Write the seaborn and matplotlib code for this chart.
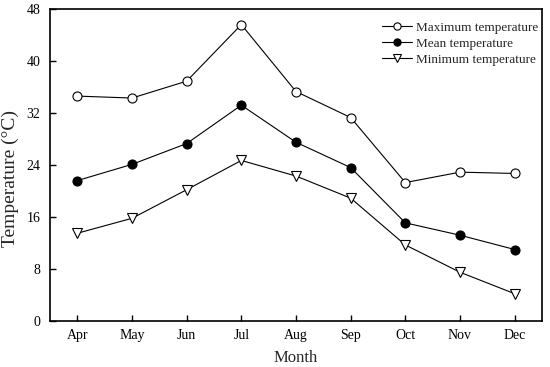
import pandas as pd
import matplotlib
matplotlib.use("Agg")
import matplotlib.pyplot as plt
import seaborn as sns

# Monthly temperatures (°C)
months = ["Apr", "May", "Jun", "Jul", "Aug", "Sep", "Oct", "Nov", "Dec"]
max_temp = [34.6, 34.3, 36.9, 45.6, 35.3, 31.3, 21.3, 22.9, 22.7]
mean_temp = [21.6, 24.1, 27.3, 33.2, 27.5, 23.6, 15.1, 13.2, 11.0]
min_temp = [13.5, 15.8, 20.2, 24.7, 22.3, 18.9, 11.7, 7.5, 4.2]
y_ticks = [0, 8, 16, 24, 32, 40, 48]


def main():
    sns.set_theme(style="ticks")
    plt.rcParams["font.family"] = ["Liberation Serif", "DejaVu Serif"]

    df = pd.DataFrame({
        "Month": months,
        "pos": range(len(months)),
        "Maximum temperature": max_temp,
        "Mean temperature": mean_temp,
        "Minimum temperature": min_temp,
    })

    fig = plt.figure(figsize=(5.5, 3.67), dpi=100)
    ax = fig.add_axes([0.0909, 0.1253, 0.8946, 0.8502])

    styles = [
        ("Maximum temperature", "o", "white", 6.5),
        ("Mean temperature", "o", "black", 6.5),
        ("Minimum temperature", "v", "white", 7.5),
    ]
    handles = []
    for name, mk, fc, ms in styles:
        sns.lineplot(data=df, x="pos", y=name, ax=ax, color="black",
                     linewidth=0.8, marker=mk, markersize=ms,
                     markerfacecolor=fc, markeredgecolor="black",
                     markeredgewidth=0.8, label=name)
        line = ax.lines[-1]
        line.set_markerfacecolor(fc)
        line.set_markeredgecolor("black")
        handles.append(line)

    ax.set_xlim(-0.5, len(months) - 0.5)
    ax.set_ylim(0, 48)
    ax.set_xticks(range(len(months)))
    ax.set_xticklabels(months)
    ax.set_yticks(y_ticks)
    ax.tick_params(axis="both", direction="in", length=4, width=1,
                   labelsize=10, colors="black")
    ax.tick_params(axis="x", pad=6)
    ax.tick_params(axis="y", pad=7)
    for sp in ax.spines.values():
        sp.set_visible(True)
        sp.set_color("black")
        sp.set_linewidth(1.2)

    ax.set_xlabel("Month", fontsize=12)
    ax.set_ylabel("Temperature (°C)", fontsize=14)
    ax.xaxis.set_label_coords(0.5, -0.093)
    ax.yaxis.set_label_coords(-0.062, 0.458)

    ax.legend(handles=handles, labels=[s[0] for s in styles], loc="upper right",
              bbox_to_anchor=(1.014, 0.994), frameon=False, fontsize=9.5,
              handlelength=2.27, handletextpad=0.3, labelspacing=0.3,
              borderaxespad=0.4, markerscale=0.8)

    fig.savefig("out.png", dpi=100)
    plt.close(fig)


if __name__ == "__main__":
    main()
